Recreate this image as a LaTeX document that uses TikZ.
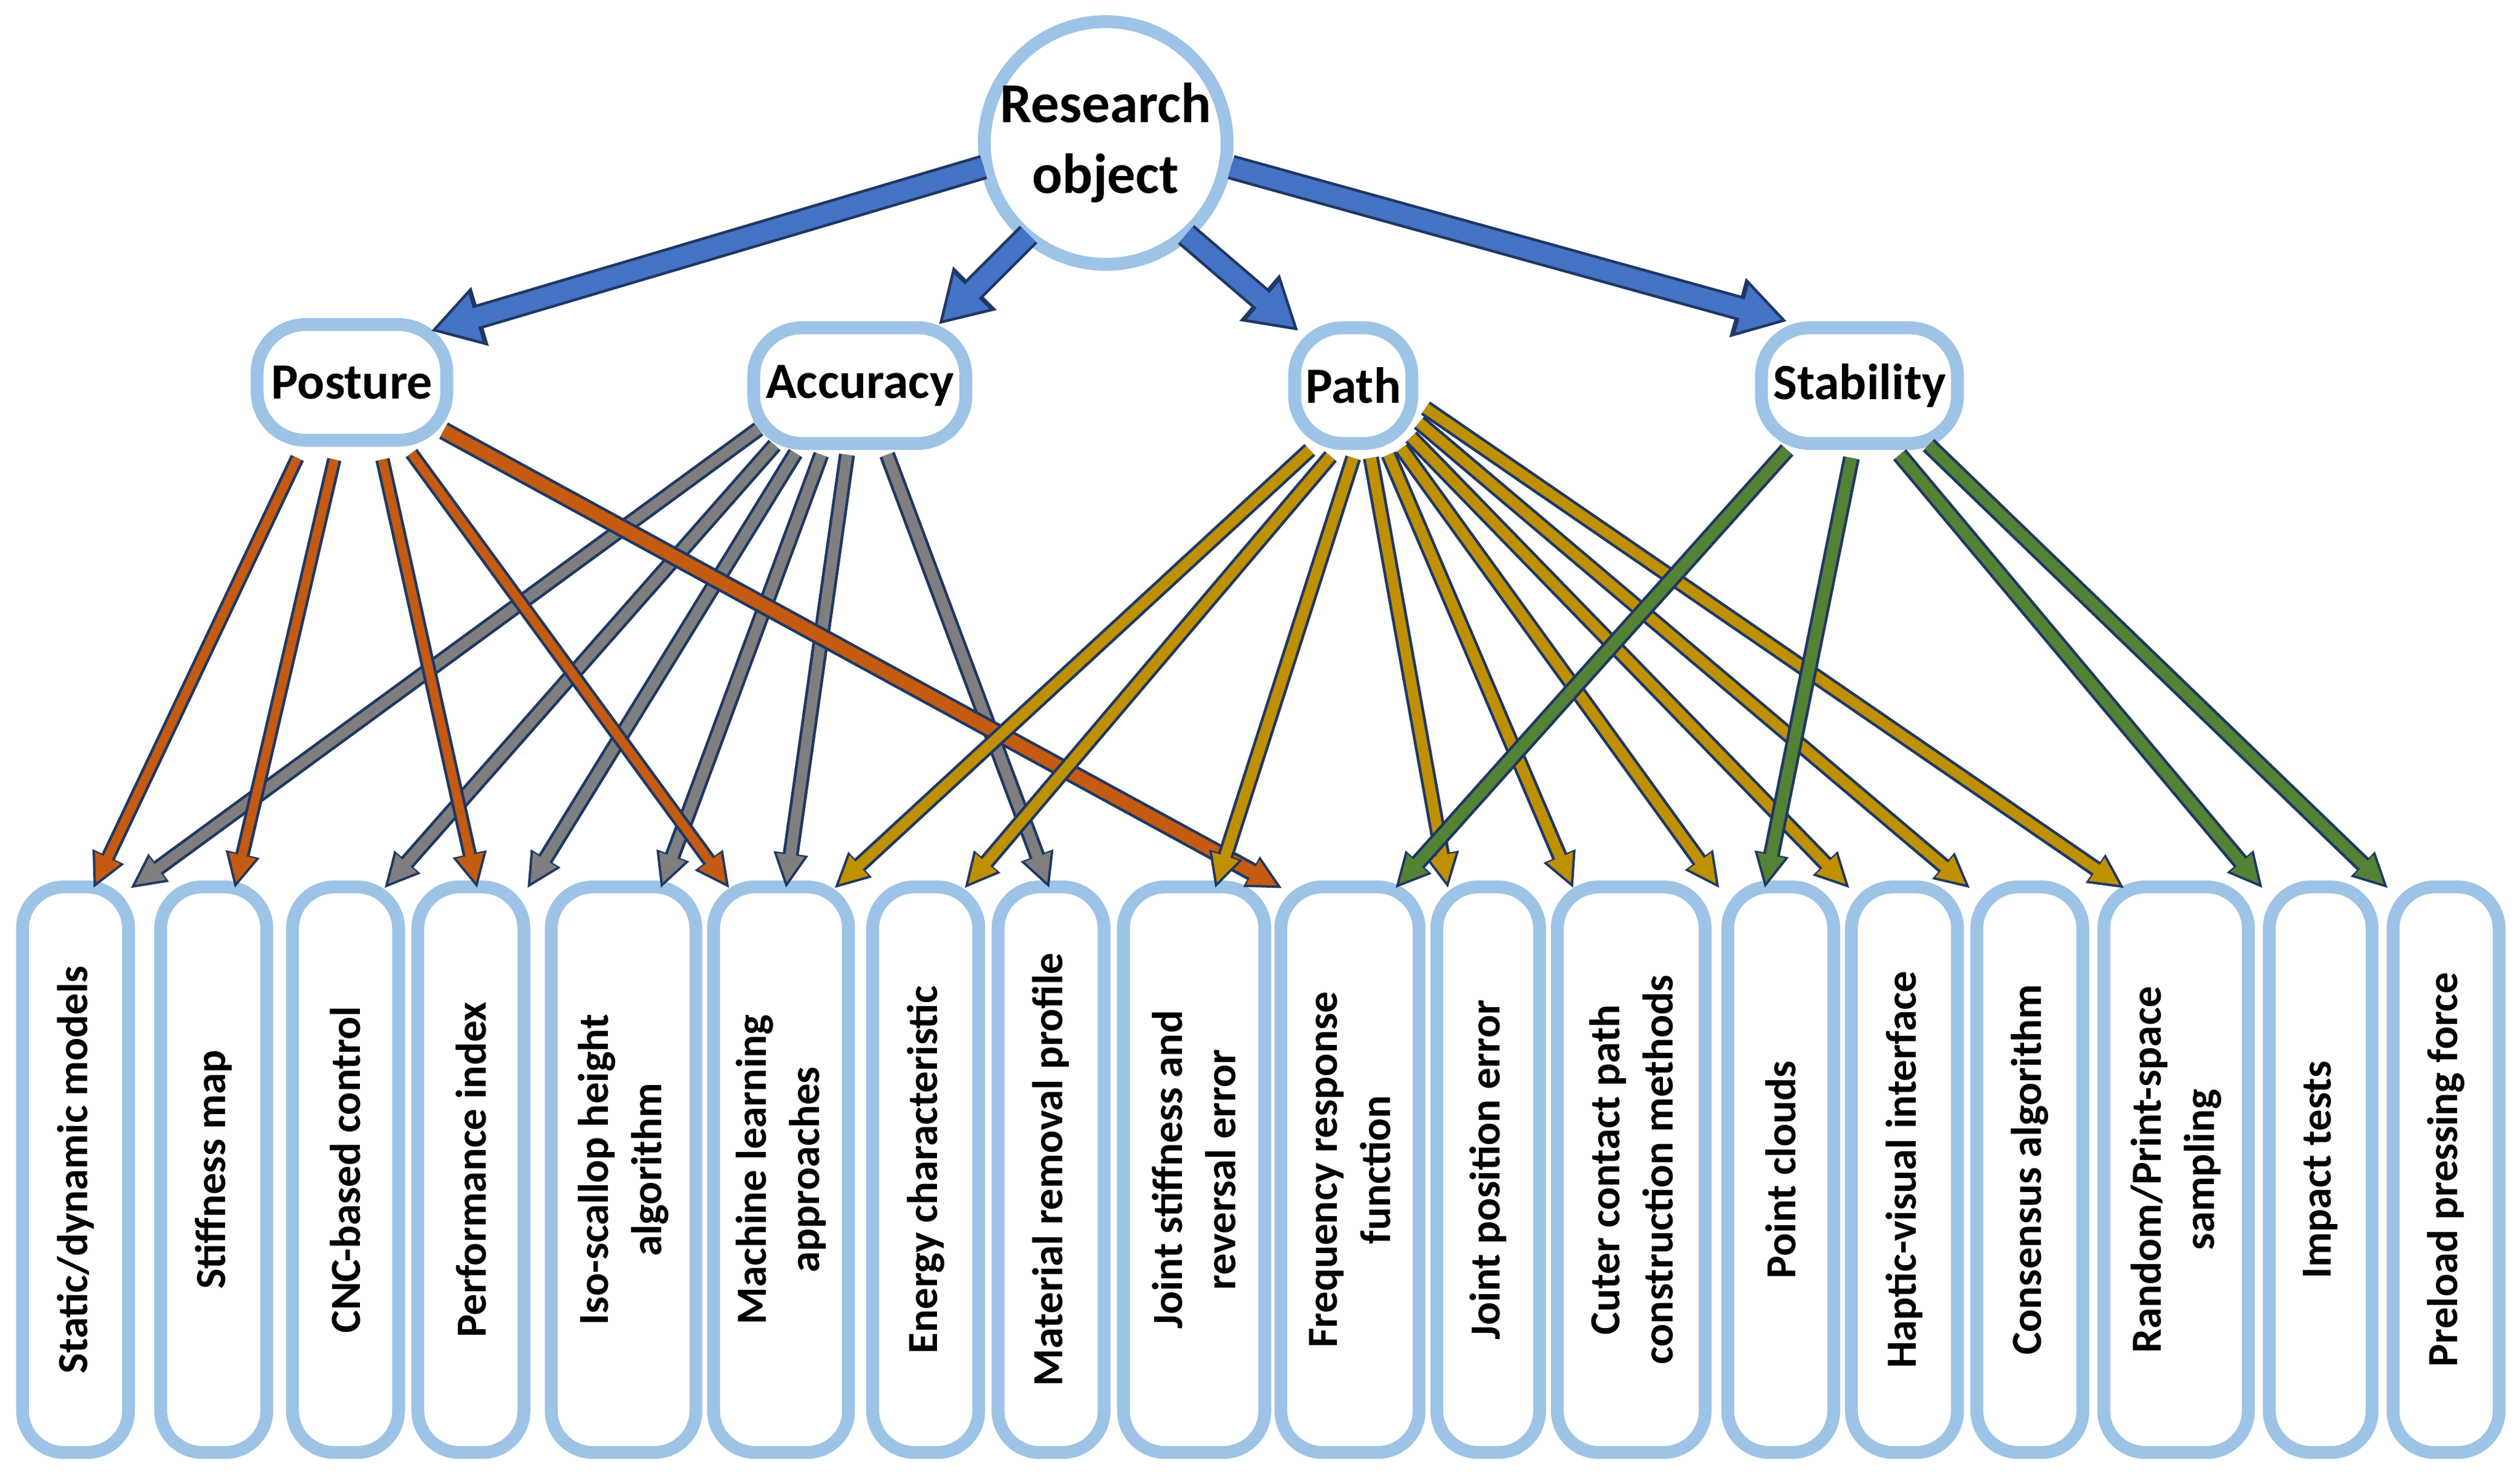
\documentclass[tikz,border=0pt]{standalone}
\usepackage{fontspec}
\setmainfont{Carlito}
\usetikzlibrary{arrows.meta}
\definecolor{bd}{HTML}{9DC3E6}
\definecolor{edge}{HTML}{1F3864}
\definecolor{cblue}{HTML}{4472C4}
\definecolor{corange}{HTML}{C55A11}
\definecolor{cgray}{HTML}{7F7F7F}
\definecolor{cgold}{HTML}{BF9000}
\definecolor{cgreen}{HTML}{548235}
\tikzset{
 box/.style={draw=bd,line width=0.8mm,rounded corners=2.6mm,fill=white,rotate=90,minimum width=35.2mm,align=center,font=\bfseries\fontsize{7.6}{9.4}\selectfont,inner sep=0pt},
 top/.style={draw=bd,line width=0.8mm,rounded corners=3mm,fill=white,minimum height=7.2mm,font=\bfseries\fontsize{9}{11}\selectfont,inner sep=0pt},
}
\newcommand\arr[6]{%
 \draw[line width=#2mm+0.35mm,draw=edge,-{Triangle[length=#3mm,width=#4mm]}] (#5) -- (#6);
 \draw[line width=#2mm,draw=#1,-{Triangle[length=#3mm,width=#4mm,scale=0.8]},shorten >=0.35mm] (#5) -- (#6);}
\begin{document}
\begin{tikzpicture}[x=0.1mm,y=-0.1mm]
\useasboundingbox (0,0) rectangle (1568,918);
% top nodes
\node[circle,draw=bd,line width=0.8mm,fill=white,minimum size=14.6mm,align=center,font=\bfseries\fontsize{10}{12.5}\selectfont,inner sep=0pt] (root) at (688,89) {Research\\object};
\node[top,minimum width=11.8mm] (posture) at (219,238) {Posture};
\node[top,minimum width=13.2mm] (accuracy) at (535,240) {Accuracy};
\node[top,minimum width=7.3mm] (path) at (842,240) {Path};
\node[top,minimum width=12.2mm] (stability) at (1157,240) {Stability};
% bottom boxes
\foreach \n/\x/\w/\t in {
 1/47/6.6/{Static/dynamic models},
 2/133/6.6/{Stiffness map},
 3/215/6.6/{CNC-based control},
 4/293/6.6/{Performance index},
 5/388/9.0/{Iso-scallop height\\algorithm},
 6/486/8.4/{Machine learning\\approaches},
 7/576/6.6/{Energy characteristic},
 8/654/6.6/{Material removal profile},
 9/743/8.8/{Joint stiffness and\\reversal error},
 10/840/8.6/{Frequency response\\function},
 11/926/6.4/{Joint position error},
 12/1015/9.2/{Cuter contact path\\construction methods},
 13/1108/6.6/{Point clouds},
 14/1185/6.6/{Haptic-visual interface},
 15/1263/6.6/{Consensus algorithm},
 16/1354/9.0/{Random/Print-space\\sampling},
 17/1444/6.4/{Impact tests},
 18/1522/6.6/{Preload pressing force}}
 {\node[box,minimum height=\w mm] (b\n) at (\x,728) {\t};}
% big blue arrows
\coordinate (r1) at (612,104); \coordinate (p0) at (268,206);
\coordinate (r2) at (640,146); \coordinate (a0) at (584,202);
\coordinate (r3) at (738,146); \coordinate (q0) at (808,206);
\coordinate (r4) at (766,104); \coordinate (s0) at (1112,200);
\arr{cblue}{1.2}{3.2}{3.6}{r1}{p0}
\arr{cblue}{1.2}{3.2}{3.6}{r2}{a0}
\arr{cblue}{1.2}{3.2}{3.6}{r3}{q0}
\arr{cblue}{1.2}{3.2}{3.6}{r4}{s0}
% gray
\foreach \i/\sx/\sy/\tx in {1/472/267/81,2/482/277/239,3/495/282/328,4/511/283/411,5/527/283/489,6/552/283/653}{
 \coordinate (ga\i) at (\sx,\sy); \coordinate (gb\i) at (\tx,553);
 \arr{cgray}{0.65}{2.2}{2.0}{ga\i}{gb\i}}
% orange
\foreach \i/\sx/\sy/\tx/\w in {1/185/285/58/0.55,2/208/286/146/0.55,3/238/286/297/0.55,4/256/282/454/0.55,5/276/268/798/0.8}{
 \coordinate (oa\i) at (\sx,\sy); \coordinate (ob\i) at (\tx,553);
 \arr{corange}{\w}{2.2}{2.0}{oa\i}{ob\i}}
% gold
\foreach \i/\sx/\sy/\tx in {1/815/280/519,2/828/284/600,3/842/285/756,4/853/285/901,5/864/283/979,6/872/279/1070,7/878/272/1151,8/883/263/1226,9/887/254/1322}{
 \coordinate (ya\i) at (\sx,\sy); \coordinate (yb\i) at (\tx,553);
 \arr{cgold}{0.65}{2.2}{2.0}{ya\i}{yb\i}}
% green
\foreach \i/\sx/\sy/\tx in {1/1112/280/868,2/1152/285/1098,3/1182/283/1408,4/1200/277/1486}{
 \coordinate (ka\i) at (\sx,\sy); \coordinate (kb\i) at (\tx,553);
 \arr{cgreen}{0.7}{2.2}{2.0}{ka\i}{kb\i}}
\end{tikzpicture}
\end{document}
